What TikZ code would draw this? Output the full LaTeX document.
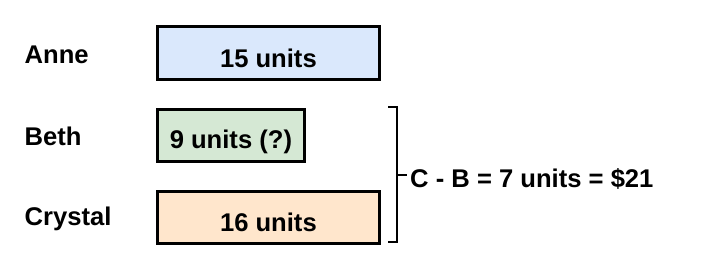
\documentclass[tikz,border=0pt]{standalone}
\usepackage{fontspec}
\setmainfont{Liberation Sans}
\definecolor{annefill}{HTML}{DAE8FC}
\definecolor{bethfill}{HTML}{D5E8D4}
\definecolor{crysfill}{HTML}{FFE6CC}
\begin{document}
\begin{tikzpicture}[x=1pt,y=-1pt,
  bar/.style={draw=black,line width=2.8pt,inner sep=0pt,anchor=north west},
  txtsty/.style={font=\fontsize{25.6}{30}\selectfont\bfseries,inner sep=0pt},
  personlbl/.style={txtsty,anchor=base west},
  brk/.style={line width=2pt}]
\useasboundingbox (0,0) rectangle (703,268);
% bars
\node[bar,fill=annefill,minimum width=222.6pt,minimum height=52.4pt] (anne) at (155.7,25.3) {};
\node[bar,fill=bethfill,minimum width=147.6pt,minimum height=51.7pt] (beth) at (155.7,108.3) {};
\node[bar,fill=crysfill,minimum width=222.6pt,minimum height=51.7pt] (crys) at (155.7,190) {};
% bar texts
\node[txtsty,anchor=base] (annet) at ([yshift=-14.2pt]anne.center) {15 units};
\node[txtsty,anchor=base] (betht) at ([yshift=-12.5pt]beth.center) {9 units (?)};
\node[txtsty,anchor=base] (cryst) at ([yshift=-14.2pt]crys.center) {16 units};
% names
\node[personlbl] (annen) at (24.5,63.3) {Anne};
\node[personlbl] (bethn) at (24.5,145) {Beth};
\node[personlbl] (crysn) at (24.5,225) {Crystal};
% bracket
\coordinate (bt0) at (388,106.8);
\coordinate (bt1) at (397,106.8);
\coordinate (bb0) at (388,241.8);
\coordinate (bb1) at (397,241.8);
\coordinate (bm) at (397,175);
\node[txtsty,anchor=base west] (diff) at (410,187) {C - B = 7 units = \$21};
\draw[brk] (bt0) -- (bt1) -- (bb1) -- (bb0);
\draw[brk] (bm) -- ([xshift=-3.5pt]diff.west |- bm);
\end{tikzpicture}
\end{document}
